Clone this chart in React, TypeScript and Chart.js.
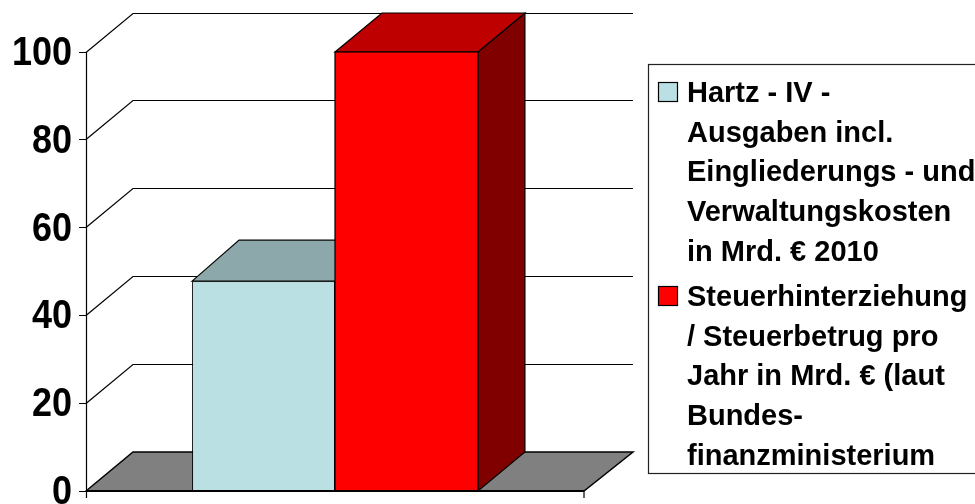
import React, { useEffect, useRef } from "react";
import { Chart, registerables } from "chart.js";

Chart.register(...registerables);

const categories = [""];
const hartzValues = [47.8];
const steuerValues = [100];
const hartzLabel = ["Hartz - IV -", "Ausgaben incl.", "Eingliederungs - und", "Verwaltungskosten", "in Mrd. € 2010"];
const steuerLabel = ["Steuerhinterziehung", "/ Steuerbetrug pro", "Jahr in Mrd. € (laut", "Bundes-", "finanzministerium"];
const seriesFront = ["#BAE0E3", "#FF0000"];
const seriesTop = ["#8CA8AA", "#BF0000"];
const seriesSide = ["#5D7072", "#800000"];
const seriesDepthY = [41, 39];
const DEPTH_X = 47;
const DEPTH_Y = 39;

const FONT = '"Liberation Sans", Arial, sans-serif';

function scaledText(ctx: CanvasRenderingContext2D, text: string, x: number, y: number, sx: number, align: CanvasTextAlign) {
  ctx.save();
  ctx.translate(x, y);
  ctx.scale(sx, 1);
  ctx.textAlign = align;
  ctx.fillText(text, 0, 0);
  ctx.restore();
}

const wallsPlugin = {
  id: "walls",
  beforeDatasetsDraw(chart: any) {
    const { ctx, chartArea: a, scales } = chart;
    const y = scales.y;
    ctx.save();
    ctx.fillStyle = "#808080";
    ctx.strokeStyle = "#000";
    ctx.lineWidth = 1.5;
    ctx.beginPath();
    ctx.moveTo(a.left, a.bottom);
    ctx.lineTo(a.left + DEPTH_X, a.bottom - DEPTH_Y);
    ctx.lineTo(a.right + DEPTH_X + 2, a.bottom - DEPTH_Y);
    ctx.lineTo(a.right, a.bottom);
    ctx.closePath();
    ctx.fill();
    ctx.stroke();
    ctx.lineWidth = 1.2;
    y.ticks.forEach((t: any) => {
      if (t.value === 0) return;
      const py = Math.floor(y.getPixelForValue(t.value)) + 0.5;
      ctx.beginPath();
      ctx.moveTo(a.left, py);
      ctx.lineTo(a.left + DEPTH_X, py - DEPTH_Y);
      ctx.lineTo(a.right + DEPTH_X + 2, py - DEPTH_Y);
      ctx.stroke();
    });
    ctx.restore();
  },
  afterDatasetsDraw(chart: any) {
    const { ctx, chartArea: a, scales } = chart;
    const y = scales.y;
    ctx.save();
    ctx.strokeStyle = "#000";
    ctx.lineWidth = 1.2;
    chart.data.datasets.forEach((_: any, i: number) => {
      const bar = chart.getDatasetMeta(i).data[0];
      const l = bar.x - bar.width / 2;
      const r = bar.x + bar.width / 2;
      const t = bar.y;
      const b = bar.base;
      const dy = seriesDepthY[i];
      ctx.fillStyle = seriesSide[i];
      ctx.beginPath();
      ctx.moveTo(r, t);
      ctx.lineTo(r + DEPTH_X, t - dy);
      ctx.lineTo(r + DEPTH_X, b - DEPTH_Y);
      ctx.lineTo(r, b);
      ctx.closePath();
      ctx.fill();
      ctx.stroke();
      ctx.fillStyle = seriesTop[i];
      ctx.beginPath();
      ctx.moveTo(l, t);
      ctx.lineTo(l + DEPTH_X, t - dy);
      ctx.lineTo(r + DEPTH_X, t - dy);
      ctx.lineTo(r, t);
      ctx.closePath();
      ctx.fill();
      ctx.stroke();
    });
    const red = chart.getDatasetMeta(1).data[0];
    ctx.fillStyle = seriesFront[1];
    ctx.fillRect(red.x - red.width / 2, red.y, red.width, red.base - red.y);
    ctx.strokeRect(red.x - red.width / 2, red.y, red.width, red.base - red.y);

    // axes
    ctx.lineWidth = 1.2;
    ctx.beginPath();
    ctx.moveTo(a.left + 0.5, y.getPixelForValue(100));
    ctx.lineTo(a.left + 0.5, a.bottom + 7);
    ctx.moveTo(a.right, a.bottom);
    ctx.lineTo(a.right, a.bottom + 7);
    y.ticks.forEach((t: any) => {
      const py = Math.floor(y.getPixelForValue(t.value)) + 0.5;
      ctx.moveTo(a.left - 7, py);
      ctx.lineTo(a.left, py);
    });
    ctx.stroke();
    ctx.lineWidth = 2;
    ctx.beginPath();
    ctx.moveTo(a.left, a.bottom);
    ctx.lineTo(a.right, a.bottom);
    ctx.stroke();

    // tick labels
    ctx.fillStyle = "#000";
    ctx.font = `bold 40px ${FONT}`;
    ctx.textBaseline = "alphabetic";
    y.ticks.forEach((t: any) => {
      scaledText(ctx, String(t.value), 72, y.getPixelForValue(t.value) + 13, 0.9, "right");
    });

    // legend
    ctx.fillStyle = "#fff";
    ctx.lineWidth = 1.2;
    ctx.strokeStyle = "#222";
    ctx.fillRect(648.5, 64.5, 340, 409);
    ctx.strokeRect(648.5, 64.5, 340, 409);
    const groups = [hartzLabel, steuerLabel];
    const groupStart = [102, 306];
    const pitch = 39.7;
    groups.forEach((lines, g) => {
      const base = groupStart[g];
      ctx.fillStyle = seriesFront[g];
      ctx.fillRect(658.5, base - 19.5, 19, 19);
      ctx.strokeStyle = "#000";
      ctx.strokeRect(658.5, base - 19.5, 19, 19);
      ctx.fillStyle = "#000";
      ctx.font = `bold 29px ${FONT}`;
      lines.forEach((txt, i) => {
        scaledText(ctx, txt, 687, base + i * pitch, 1, "left");
      });
    });
    ctx.restore();
  },
};

export default function App() {
  const ref = useRef<HTMLCanvasElement>(null);
  useEffect(() => {
    const chart = new Chart(ref.current!, {
      type: "bar",
      data: {
        labels: categories,
        datasets: [
          { label: hartzLabel.join(" "), data: hartzValues, backgroundColor: seriesFront[0], borderColor: "#000", borderWidth: 1 },
          { label: steuerLabel.join(" "), data: steuerValues, backgroundColor: seriesFront[1], borderColor: "#000", borderWidth: 1 },
        ],
      },
      options: {
        animation: false,
        responsive: false,
        layout: { padding: { top: 52, bottom: 13, right: 391, left: 0 } },
        categoryPercentage: 0.574,
        barPercentage: 1,
        plugins: { legend: { display: false }, tooltip: { enabled: false }, title: { display: false } },
        scales: {
          x: {
            ticks: { display: false },
            grid: { display: false },
            border: { display: false },
            afterFit: (s: any) => { s.height = 0; },
          },
          y: {
            min: 0,
            max: 100,
            ticks: { stepSize: 20, display: false },
            grid: { display: false },
            border: { display: false },
            afterFit: (s: any) => { s.width = 86; },
          },
        },
      } as any,
      plugins: [wallsPlugin],
    });
    return () => chart.destroy();
  }, []);
  return (
    <div style={{ position: "fixed", left: 0, top: 0, width: 975, height: 504, background: "#fff", overflow: "hidden" }}>
      <canvas ref={ref} width={975} height={504} style={{ display: "block" }} />
    </div>
  );
}
